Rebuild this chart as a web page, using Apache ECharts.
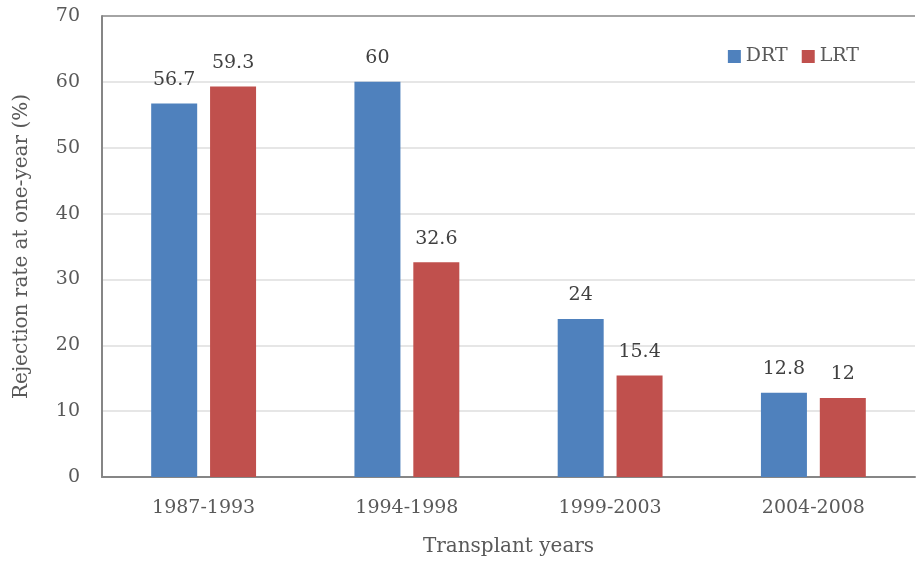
<!DOCTYPE html>
<html>
<head>
<meta charset="utf-8">
<script src="https://cdn.jsdelivr.net/npm/echarts@6/dist/echarts.min.js"></script>
<style>
    html, body { margin: 0; padding: 0; background: #fff; }
    #chart { width: 919px; height: 563px; }
</style>
</head>
<body>
<div id="chart"></div>
<script>
    // 数据
    var categories = ['1987-1993', '1994-1998', '1999-2003', '2004-2008'];
    var drt = [56.7, 60, 24, 12.8];
    var lrt = [59.3, 32.6, 15.4, 12];
    var yTicks = [0, 10, 20, 30, 40, 50, 60, 70];

    var font = '"DejaVu Serif", serif';
    var chart = echarts.init(document.getElementById('chart'));

    chart.setOption({
        animation: false,
        textStyle: { fontFamily: font },
        grid: { left: 102, right: 4, top: 16, bottom: 86, containLabel: false, outerBoundsMode: 'none' },
        legend: {
            data: ['DRT', 'LRT'],
            right: 55,
            top: 42,
            icon: 'rect',
            itemWidth: 13,
            itemHeight: 13,
            itemGap: 14,
            textStyle: { fontFamily: font, fontSize: 19, color: '#595959' }
        },
        xAxis: {
            type: 'category',
            data: categories,
            name: 'Transplant years',
            nameLocation: 'middle',
            nameGap: 60,
            nameTextStyle: { fontFamily: font, fontSize: 20, color: '#595959' },
            axisLine: { lineStyle: { color: '#868686', width: 2 } },
            axisTick: { show: false },
            axisLabel: { fontFamily: font, fontSize: 19, color: '#595959', margin: 22 }
        },
        yAxis: {
            type: 'value',
            min: yTicks[0],
            max: yTicks[yTicks.length - 1],
            interval: 10,
            name: 'Rejection rate at one-year (%)',
            nameLocation: 'middle',
            nameGap: 70,
            nameTextStyle: { fontFamily: font, fontSize: 20, color: '#595959' },
            axisLine: { show: true, lineStyle: { color: '#868686', width: 2 } },
            axisTick: { show: false },
            axisLabel: { fontFamily: font, fontSize: 19, color: '#595959', margin: 22 },
            splitLine: {
                show: true,
                lineStyle: {
                    width: 1.5,
                    color: ['#dedede', '#dedede', '#dedede', '#dedede', '#dedede', '#dedede', '#dedede', '#868686']
                }
            }
        },
        series: [
            {
                name: 'DRT',
                type: 'bar',
                data: drt,
                barWidth: 46,
                barGap: '28%',
                itemStyle: { color: '#4F81BD' },
                label: { show: true, position: 'top', distance: 14, fontFamily: font, fontSize: 19, color: '#404040' }
            },
            {
                name: 'LRT',
                type: 'bar',
                data: lrt,
                barWidth: 46,
                itemStyle: { color: '#C0504D' },
                label: { show: true, position: 'top', distance: 14, fontFamily: font, fontSize: 19, color: '#404040' }
            }
        ]
    });
</script>
</body>
</html>
